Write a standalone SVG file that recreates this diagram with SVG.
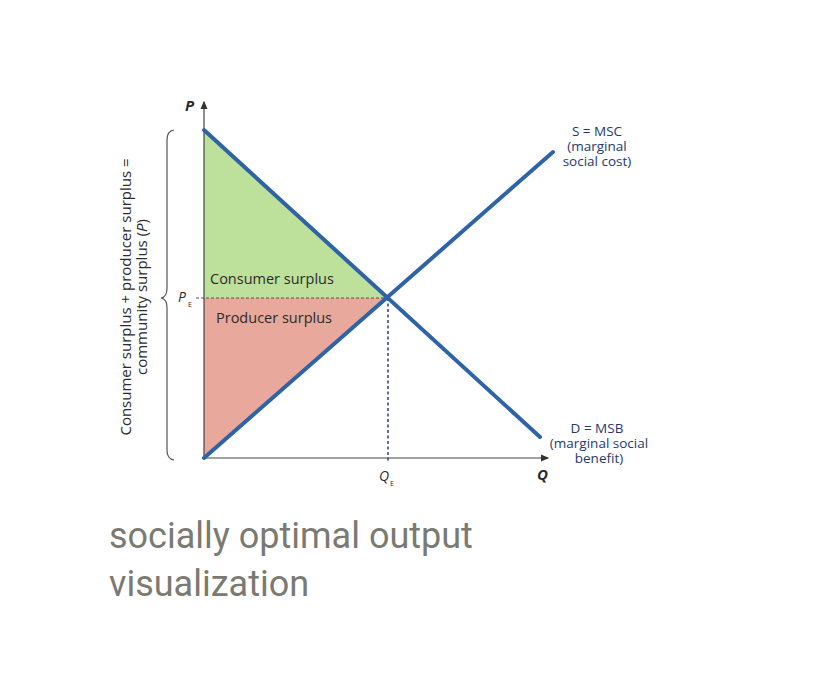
<svg xmlns="http://www.w3.org/2000/svg" width="824" height="676" viewBox="0 0 824 676">
<style>
.t{font-family:"Open Sans","Liberation Sans",sans-serif;fill:#2b2b2b}
.c{font-family:"Open Sans","Liberation Sans",sans-serif;fill:#253a6a;font-size:13.5px;text-anchor:middle}
.curve{stroke:#2f63a8;stroke-width:4;fill:none;stroke-linecap:round}
.ax{stroke:#444;stroke-width:1.2;fill:none}
</style>
<defs><marker id="ar" markerWidth="8" markerHeight="8" refX="6" refY="4" orient="auto"><path d="M0,1 L7,4 L0,7 Z" fill="#333"/></marker></defs>
<rect width="824" height="676" fill="#fff"/>
<g id="areas">
<polygon points="204,130 388,298 204,298" fill="#bde09b"/>
<polygon points="204,298 388,298 204,458" fill="#e8a89b"/>
</g>
<g id="axes">
<line class="ax" x1="204" y1="458" x2="204" y2="102" marker-end="url(#ar)"/>
<line class="ax" x1="204" y1="458" x2="548" y2="458" marker-end="url(#ar)"/>
<text class="t" x="185" y="111" font-size="15" font-weight="bold" font-style="italic">P</text>
<text class="t" x="537" y="480" font-size="15" font-weight="bold" font-style="italic">Q</text>
</g>
<g id="connectors">
<line x1="196" y1="298" x2="388" y2="298" stroke="#555" stroke-width="1" stroke-dasharray="3,2"/>
<line x1="388" y1="298" x2="388" y2="462" stroke="#2a3f75" stroke-width="1.5" stroke-dasharray="3,2.5"/>
</g>
<g id="curves">
<line class="curve" x1="204" y1="130" x2="540" y2="437"/>
<line class="curve" x1="204" y1="458" x2="553" y2="152"/>
</g>
<g id="labels">
<text class="t" x="210" y="284" font-size="14.5">Consumer surplus</text>
<text class="t" x="216" y="323" font-size="14.5">Producer surplus</text>
<text class="t" x="178" y="302" font-size="14" font-style="italic">P</text>
<text class="t" x="188" y="307" font-size="7">E</text>
<text class="t" x="379" y="481" font-size="14" font-style="italic">Q</text>
<text class="t" x="390" y="486" font-size="7">E</text>
<text class="c" x="597" y="136">S = MSC</text>
<text class="c" x="597" y="151">(marginal</text>
<text class="c" x="597" y="166">social cost)</text>
<text class="c" x="597" y="433">D = MSB</text>
<text class="c" x="599" y="448">(marginal social</text>
<text class="c" x="599" y="463">benefit)</text>
</g>
<g id="brace">
<path d="M174,130 Q167,131 167,140 L167,288 Q167,297 161,298 Q167,299 167,308 L167,450 Q167,459 174,460" fill="none" stroke="#555" stroke-width="1.2"/>
<text class="t" transform="translate(131,297) rotate(-90)" font-size="15" text-anchor="middle">Consumer surplus + producer surplus =</text>
<text class="t" transform="translate(147,297) rotate(-90)" font-size="15" text-anchor="middle">community surplus (<tspan font-style="italic">P</tspan>)</text>
</g>
<g id="caption">
<text x="109" y="548" font-family="Roboto,'Liberation Sans',sans-serif" font-size="36" fill="#7a7a72">socially optimal output</text>
<text x="109" y="596" font-family="Roboto,'Liberation Sans',sans-serif" font-size="36" fill="#7a7a72">visualization</text>
</g>
</svg>
